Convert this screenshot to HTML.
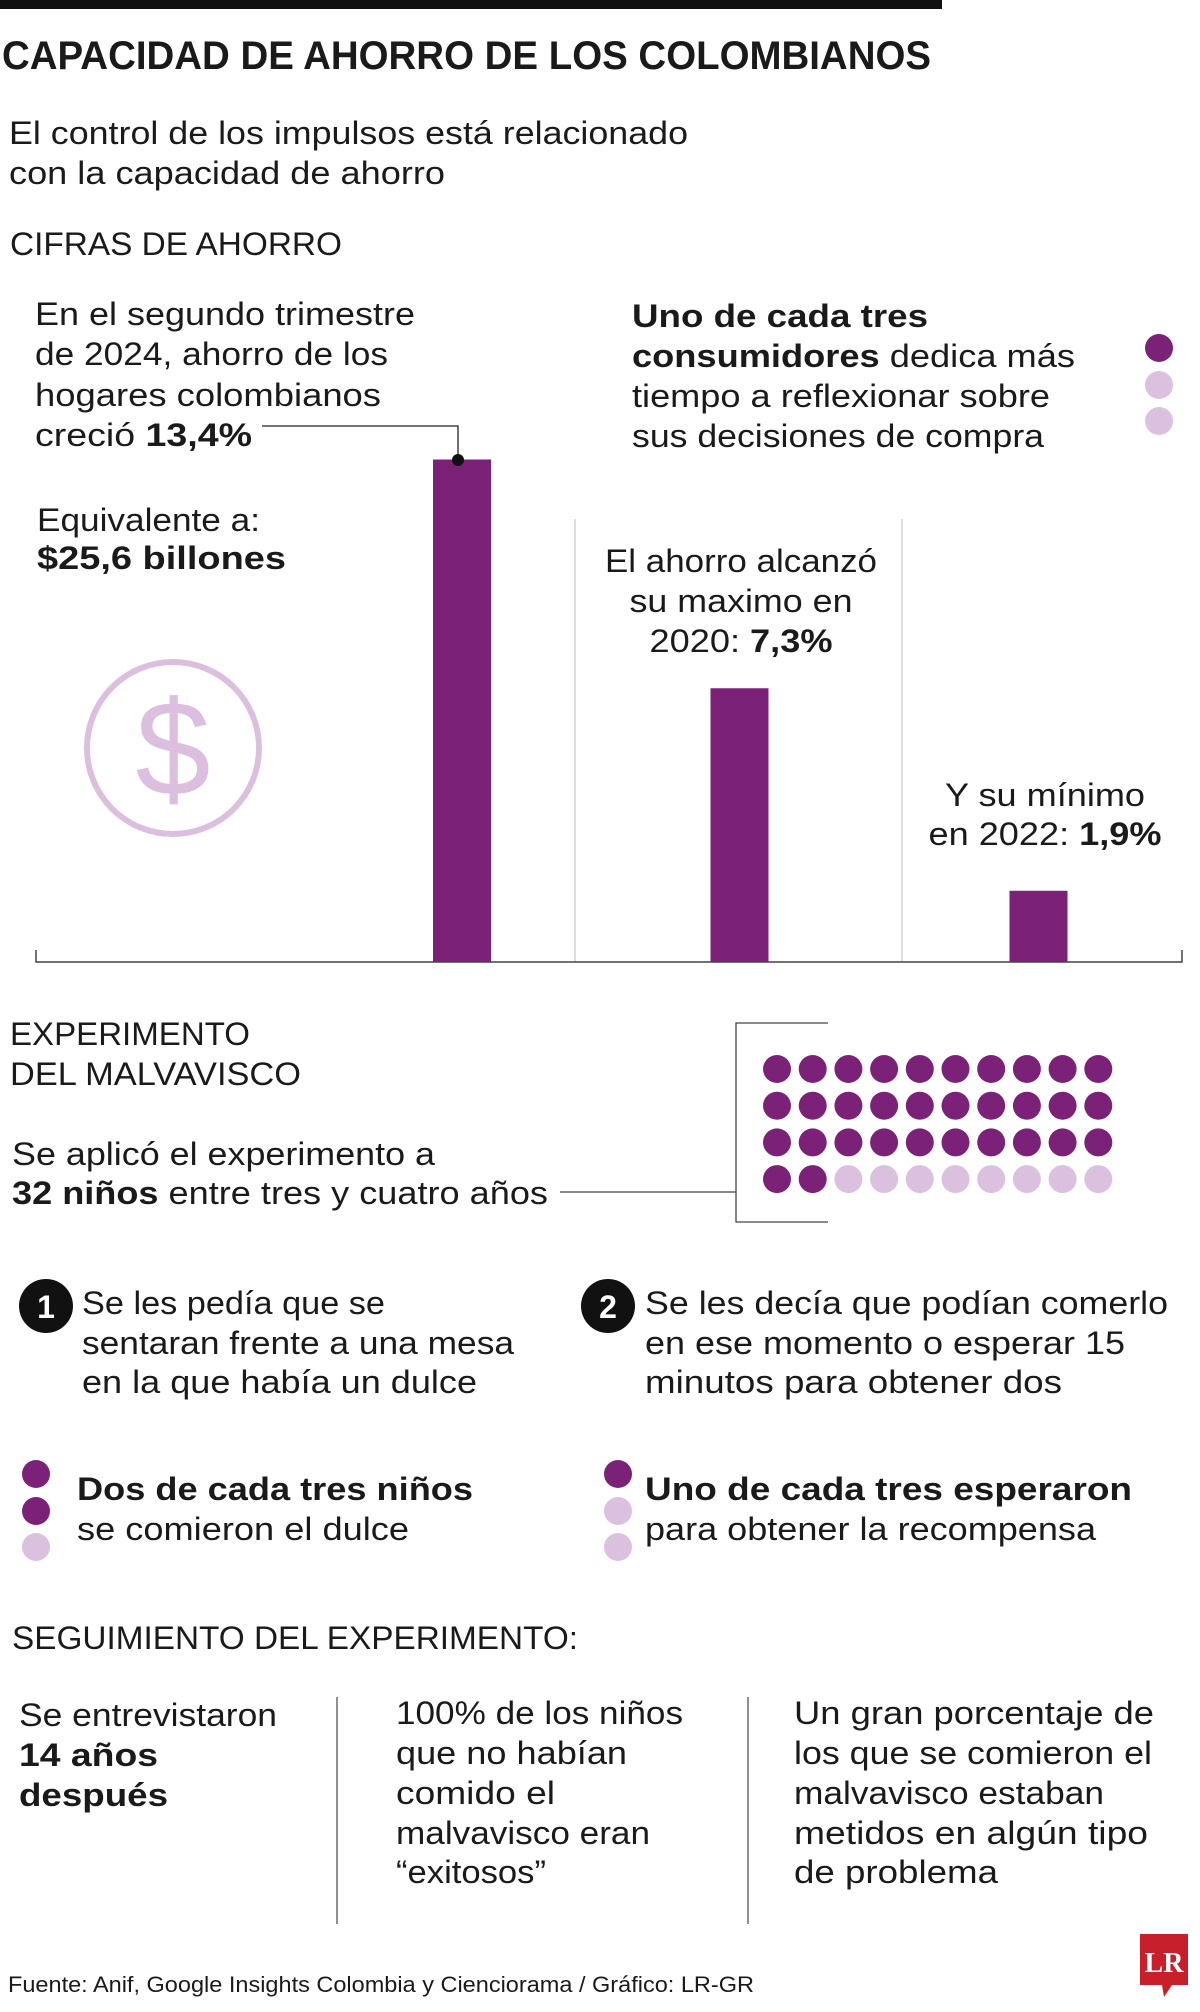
<!DOCTYPE html>
<html><head><meta charset="utf-8"><style>
html,body{margin:0;padding:0;background:#fff;}
svg{display:block;}
text{font-family:"Liberation Sans",sans-serif;fill:#1a1a1a;}
.n{font-size:32px;}
.b{font-weight:bold;}
</style></head><body>
<svg id="chart" width="1200" height="2012" viewBox="0 0 1200 2012" xmlns="http://www.w3.org/2000/svg">
<rect x="0" y="0" width="942" height="9" fill="#111"/>
<text x="2" y="69" font-size="40" font-weight="bold" textLength="929" lengthAdjust="spacingAndGlyphs">CAPACIDAD DE AHORRO DE LOS COLOMBIANOS</text>
<text class="n" x="9" y="144" textLength="679" lengthAdjust="spacingAndGlyphs">El control de los impulsos está relacionado</text>
<text class="n" x="9" y="184" textLength="436" lengthAdjust="spacingAndGlyphs">con la capacidad de ahorro</text>
<text class="n" x="10" y="255" textLength="332" lengthAdjust="spacingAndGlyphs">CIFRAS DE AHORRO</text>

<g>
<text class="n" x="35" y="325" textLength="380" lengthAdjust="spacingAndGlyphs">En el segundo trimestre</text>
<text class="n" x="35" y="365" textLength="353" lengthAdjust="spacingAndGlyphs">de 2024, ahorro de los</text>
<text class="n" x="35" y="406" textLength="346" lengthAdjust="spacingAndGlyphs">hogares colombianos</text>
<text class="n" x="35" y="446" textLength="217" lengthAdjust="spacingAndGlyphs">creció <tspan class="b">13,4%</tspan></text>
</g>
<polyline points="262,426 458,426 458,458" fill="none" stroke="#222" stroke-width="1.3"/>
<g>
<text class="n b" x="632" y="327" textLength="296" lengthAdjust="spacingAndGlyphs">Uno de cada tres</text>
<text class="n" x="632" y="367" textLength="443" lengthAdjust="spacingAndGlyphs"><tspan class="b">consumidores</tspan> dedica más</text>
<text class="n" x="632" y="407" textLength="418" lengthAdjust="spacingAndGlyphs">tiempo a reflexionar sobre</text>
<text class="n" x="632" y="447" textLength="412" lengthAdjust="spacingAndGlyphs">sus decisiones de compra</text>
</g>
<circle cx="1159" cy="348" r="14" fill="#7b2278"/>
<circle cx="1159" cy="385" r="14" fill="#dcc0df"/>
<circle cx="1159" cy="421" r="14" fill="#dcc0df"/>
<text class="n" x="37" y="531" textLength="223" lengthAdjust="spacingAndGlyphs">Equivalente a:</text>
<text class="n b" x="37" y="569" textLength="249" lengthAdjust="spacingAndGlyphs">$25,6 billones</text>
<circle cx="173" cy="748" r="86" fill="none" stroke="#dcbfdf" stroke-width="6"/>
<text x="173" y="795" font-size="135" text-anchor="middle" style="fill:#dcbfdf">$</text>

<g>
<text class="n" x="741" y="572" text-anchor="middle" textLength="272" lengthAdjust="spacingAndGlyphs">El ahorro alcanzó</text>
<text class="n" x="741" y="612" text-anchor="middle" textLength="223" lengthAdjust="spacingAndGlyphs">su maximo en</text>
<text class="n" x="741" y="652" text-anchor="middle" textLength="183" lengthAdjust="spacingAndGlyphs">2020: <tspan class="b">7,3%</tspan></text>
</g>
<g>
<text class="n" x="1045" y="806" text-anchor="middle" textLength="200" lengthAdjust="spacingAndGlyphs">Y su mínimo</text>
<text class="n" x="1045" y="845" text-anchor="middle" textLength="233" lengthAdjust="spacingAndGlyphs">en 2022: <tspan class="b">1,9%</tspan></text>
</g>
<line x1="575" y1="519" x2="575" y2="962" stroke="#ccc" stroke-width="1.3"/>
<line x1="902" y1="519" x2="902" y2="962" stroke="#ccc" stroke-width="1.3"/>
<g id="bars"></g>
<polyline points="36,950 36,962 1182,962 1182,950" fill="none" stroke="#444" stroke-width="1.5"/>
<circle cx="458" cy="460" r="6" fill="#111"/>

<text class="n" x="10" y="1045" textLength="240" lengthAdjust="spacingAndGlyphs">EXPERIMENTO</text>
<text class="n" x="10" y="1085" textLength="291" lengthAdjust="spacingAndGlyphs">DEL MALVAVISCO</text>
<text class="n" x="12" y="1165" textLength="423" lengthAdjust="spacingAndGlyphs">Se aplicó el experimento a</text>
<text class="n" x="12" y="1204" textLength="536" lengthAdjust="spacingAndGlyphs"><tspan class="b">32 niños</tspan> entre tres y cuatro años</text>
<line x1="560" y1="1192" x2="736" y2="1192" stroke="#444" stroke-width="1.3"/>
<polyline points="828,1023 736,1023 736,1222 828,1222" fill="none" stroke="#444" stroke-width="1.3"/>
<g id="dots"></g>

<circle cx="46" cy="1306" r="27" fill="#111"/>
<text x="46" y="1318" font-size="32" font-weight="bold" text-anchor="middle" style="fill:#fff">1</text>
<g>
<text class="n" x="82" y="1314" textLength="303" lengthAdjust="spacingAndGlyphs">Se les pedía que se</text>
<text class="n" x="82" y="1354" textLength="432" lengthAdjust="spacingAndGlyphs">sentaran frente a una mesa</text>
<text class="n" x="82" y="1393" textLength="395" lengthAdjust="spacingAndGlyphs">en la que había un dulce</text>
</g>
<circle cx="608" cy="1306" r="27" fill="#111"/>
<text x="608" y="1318" font-size="32" font-weight="bold" text-anchor="middle" style="fill:#fff">2</text>
<g>
<text class="n" x="645" y="1314" textLength="523" lengthAdjust="spacingAndGlyphs">Se les decía que podían comerlo</text>
<text class="n" x="645" y="1354" textLength="480" lengthAdjust="spacingAndGlyphs">en ese momento o esperar 15</text>
<text class="n" x="645" y="1393" textLength="417" lengthAdjust="spacingAndGlyphs">minutos para obtener dos</text>
</g>

<circle cx="36" cy="1474" r="14" fill="#7b2278"/>
<circle cx="36" cy="1511" r="14" fill="#7b2278"/>
<circle cx="36" cy="1547" r="14" fill="#dcc0df"/>
<text class="n b" x="77" y="1500" textLength="396" lengthAdjust="spacingAndGlyphs">Dos de cada tres niños</text>
<text class="n" x="77" y="1540" textLength="332" lengthAdjust="spacingAndGlyphs">se comieron el dulce</text>
<circle cx="618" cy="1474" r="14" fill="#7b2278"/>
<circle cx="618" cy="1511" r="14" fill="#dcc0df"/>
<circle cx="618" cy="1547" r="14" fill="#dcc0df"/>
<text class="n b" x="645" y="1500" textLength="487" lengthAdjust="spacingAndGlyphs">Uno de cada tres esperaron</text>
<text class="n" x="645" y="1540" textLength="451" lengthAdjust="spacingAndGlyphs">para obtener la recompensa</text>

<text class="n" x="12" y="1649" textLength="566" lengthAdjust="spacingAndGlyphs">SEGUIMIENTO DEL EXPERIMENTO:</text>
<line x1="337" y1="1697" x2="337" y2="1924" stroke="#555" stroke-width="1.3"/>
<line x1="748" y1="1697" x2="748" y2="1924" stroke="#555" stroke-width="1.3"/>
<g>
<text class="n" x="19" y="1726" textLength="258" lengthAdjust="spacingAndGlyphs">Se entrevistaron</text>
<text class="n b" x="19" y="1766" textLength="139" lengthAdjust="spacingAndGlyphs">14 años</text>
<text class="n b" x="19" y="1806" textLength="149" lengthAdjust="spacingAndGlyphs">después</text>
</g>
<g>
<text class="n" x="396" y="1724" textLength="287" lengthAdjust="spacingAndGlyphs">100% de los niños</text>
<text class="n" x="396" y="1764" textLength="231" lengthAdjust="spacingAndGlyphs">que no habían</text>
<text class="n" x="396" y="1804" textLength="159" lengthAdjust="spacingAndGlyphs">comido el</text>
<text class="n" x="396" y="1844" textLength="254" lengthAdjust="spacingAndGlyphs">malvavisco eran</text>
<text class="n" x="396" y="1883" textLength="150" lengthAdjust="spacingAndGlyphs">“exitosos”</text>
</g>
<g>
<text class="n" x="794" y="1724" textLength="360" lengthAdjust="spacingAndGlyphs">Un gran porcentaje de</text>
<text class="n" x="794" y="1764" textLength="358" lengthAdjust="spacingAndGlyphs">los que se comieron el</text>
<text class="n" x="794" y="1804" textLength="310" lengthAdjust="spacingAndGlyphs">malvavisco estaban</text>
<text class="n" x="794" y="1844" textLength="354" lengthAdjust="spacingAndGlyphs">metidos en algún tipo</text>
<text class="n" x="794" y="1883" textLength="204" lengthAdjust="spacingAndGlyphs">de problema</text>
</g>
<text x="8" y="1992" font-size="22" textLength="746" lengthAdjust="spacingAndGlyphs">Fuente: Anif, Google Insights Colombia y Cienciorama / Gráfico: LR-GR</text>
<g>
<path d="M1140,1934 H1188 V1985 H1172 L1164,1997 L1162,1985 H1140 Z" fill="#c8202a"/>
<text x="1164" y="1972" font-size="28" font-weight="bold" text-anchor="middle" style="fill:#fff;font-family:'Liberation Serif',serif">LR</text>
</g>
</svg>
<script>
const barYears = ["2024-T2", "2020", "2022"];
const barValues = [13.4, 7.3, 1.9];
const childTotal = 40;
const childAte = 32;
const NS = "http://www.w3.org/2000/svg";
(function(){
  const baseY = 962, pxPer = 37.5, w = 58;
  const xs = {"2024-T2":462, "2020":739.5, "2022":1038.5};
  const yScale = v => baseY - v * pxPer;
  const g = document.getElementById('bars');
  barValues.forEach((v, i) => {
    const r = document.createElementNS(NS, 'rect');
    const cx = xs[barYears[i]];
    r.setAttribute('x', cx - w/2);
    r.setAttribute('y', yScale(v));
    r.setAttribute('width', w);
    r.setAttribute('height', baseY - yScale(v));
    r.setAttribute('fill', '#7b2278');
    
    
    g.appendChild(r);
  });
  const dg = document.getElementById('dots');
  const cols = 10;
  for (let k = 0; k < childTotal; k++) {
    const c = document.createElementNS(NS, 'circle');
    c.setAttribute('cx', 777 + (k % cols) * 35.7);
    c.setAttribute('cy', 1069 + Math.floor(k / cols) * 36.7);
    c.setAttribute('r', 14);
    c.setAttribute('fill', k < childAte ? '#7b2278' : '#dcc0df');
    
    
    dg.appendChild(c);
  }
})();
</script>
</body></html>
